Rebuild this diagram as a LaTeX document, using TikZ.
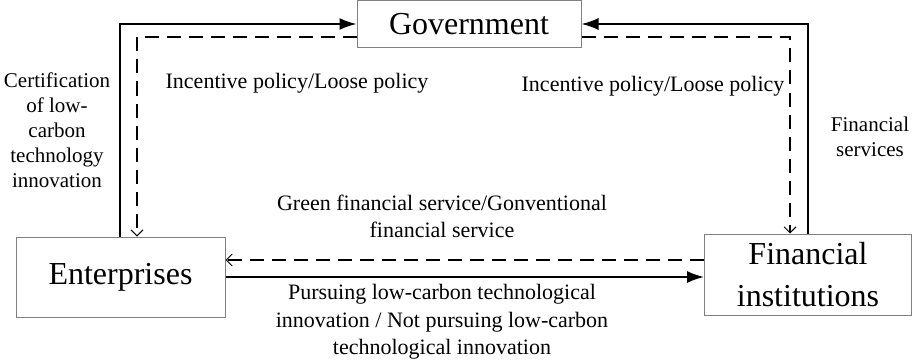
\documentclass[tikz,border=0pt]{standalone}
\usepackage{fontspec}
\setmainfont{Liberation Serif}
\usetikzlibrary{arrows.meta}
\begin{document}
\begin{tikzpicture}[x=1pt,y=-1pt,
  box/.style={draw=black!50,line width=1pt,inner sep=0pt,align=center,font=\fontsize{32}{42}\selectfont},
  lbl/.style={align=center,inner sep=0pt,font=\fontsize{22}{27}\selectfont},
  solidarrow/.style={line width=1.7pt,-{Latex[length=17pt,width=12pt]}},
  dasharrow/.style={line width=1.1pt,dash pattern=on 14pt off 8pt,-{Straight Barb[length=6pt,width=12pt,line width=1pt]}}]
\useasboundingbox (0,0) rectangle (913,361);
\node[box,minimum width=224pt,minimum height=47pt] (gov) at (469,24.5) {Government};
\node[box,minimum width=209pt,minimum height=80pt] (ent) at (120.5,277) {Enterprises};
\node[box,minimum width=207pt,minimum height=81pt] (fin) at (808,274.5) {Financial\\institutions};
\coordinate (sl) at (120,24);
\coordinate (dl) at (137,37);
\coordinate (sr) at (808,24);
\coordinate (dr) at (790,37);
\coordinate (db) at (0,260);
\coordinate (bs) at (0,277);
\draw[solidarrow] (ent.north -| sl) |- (gov.west |- sl);
\draw[dasharrow] (gov.west |- dl) -| (ent.north -| dl);
\draw[solidarrow] (fin.north -| sr) |- (gov.east |- sr);
\draw[dasharrow] (gov.east |- dr) -| (fin.north -| dr);
\draw[dasharrow] (fin.west |- db) -- (ent.east |- db);
\draw[solidarrow] (ent.east |- bs) -- (fin.west |- bs);
\node[lbl] (inc1) at (297,83) {Incentive policy/Loose policy};
\node[lbl] (inc2) at (653,86) {Incentive policy/Loose policy};
\node[lbl,font=\fontsize{21}{25}\selectfont] (cert) at (57,130) {Certification\\of low-\\carbon\\technology\\innovation};
\node[lbl,font=\fontsize{21}{25}\selectfont] (fs) at (870,137) {Financial\\services};
\node[lbl] (green) at (442,216) {Green financial service/Gonventional\\financial service};
\node[lbl,font=\fontsize{22}{27.5}\selectfont] (pur) at (442,322) {Pursuing low-carbon technological\\innovation / Not pursuing low-carbon\\technological innovation};
\end{tikzpicture}
\end{document}
